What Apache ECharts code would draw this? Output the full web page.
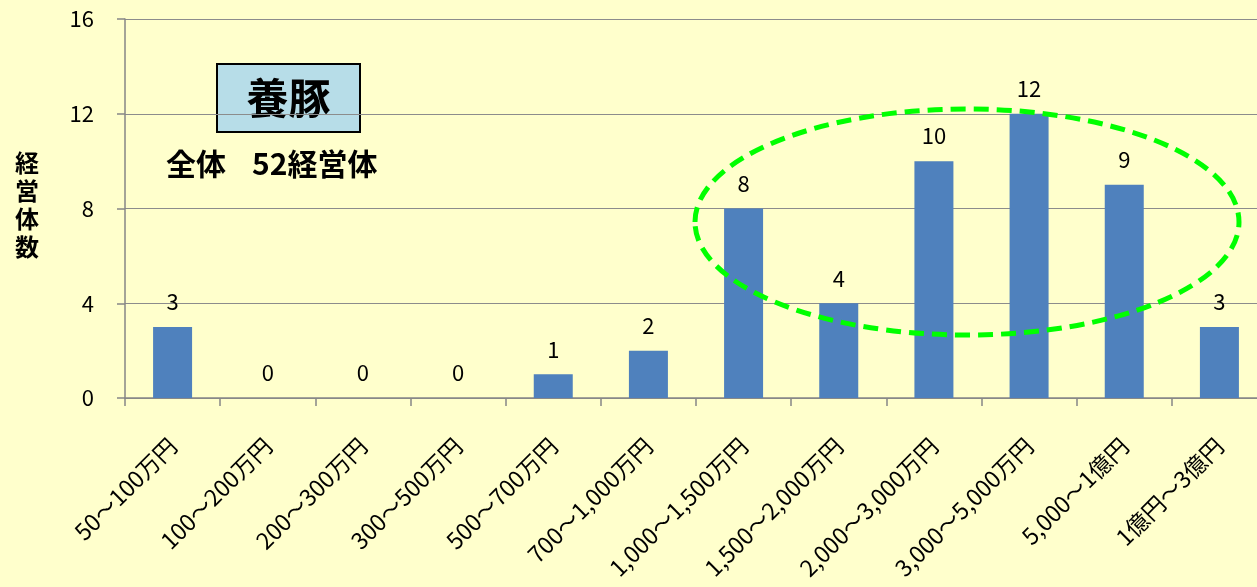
<!DOCTYPE html>
<html>
<head>
<meta charset="utf-8">
<script src="https://cdn.jsdelivr.net/npm/echarts@6/dist/echarts.min.js"></script>
<style>
  html, body { margin: 0; padding: 0; background: #FFFFCC; overflow: hidden; }
  /* the plot area runs slightly past the right edge of the window */
  #chart { width: 1280px; height: 587px; }
</style>
</head>
<body>
<div id="chart"></div>
<script>
// Income brackets (sales scale) for pig farming operations
const categories = [
  '50〜100万円', '100〜200万円', '200〜300万円', '300〜500万円',
  '500〜700万円', '700〜1,000万円', '1,000〜1,500万円', '1,500〜2,000万円',
  '2,000〜3,000万円', '3,000〜5,000万円', '5,000〜1億円', '1億円〜3億円'
];
// Number of operations per bracket
const counts = [3, 0, 0, 0, 1, 2, 8, 4, 10, 12, 9, 3];
// Y axis ticks
const yTicks = [0, 4, 8, 12, 16];

const FONT = '"Noto Sans CJK JP", "Noto Sans", sans-serif';

const chart = echarts.init(document.getElementById('chart'), null, { renderer: 'canvas' });

chart.setOption({
  backgroundColor: '#FFFFCC',
  animation: false,
  grid: { left: 125, top: 19, width: 1142, height: 379, containLabel: false },
  xAxis: {
    type: 'category',
    data: categories,
    axisLine: { lineStyle: { color: '#868686', width: 1.5 } },
    axisTick: { show: true, length: 8, lineStyle: { color: '#868686', width: 1.5 } },
    axisLabel: {
      rotate: 45,
      margin: 44,
      color: '#000',
      fontSize: 23,
      fontFamily: FONT,
      interval: 0
    }
  },
  yAxis: {
    type: 'value',
    min: yTicks[0],
    max: yTicks[yTicks.length - 1],
    interval: 4,
    axisLine: { show: true, lineStyle: { color: '#868686', width: 1.5 } },
    axisTick: { show: true, length: 8, lineStyle: { color: '#868686', width: 1.5 } },
    axisLabel: { margin: 31, color: '#000', fontSize: 22, fontFamily: FONT },
    splitLine: { lineStyle: { color: '#8C8C8C', width: 1.2 } }
  },
  series: [{
    type: 'bar',
    data: counts,
    barWidth: 39,
    itemStyle: { color: '#4F81BD' },
    label: {
      show: true,
      position: 'top',
      distance: 14,
      color: '#000',
      fontSize: 22,
      fontFamily: FONT
    }
  }],
  graphic: [
    {
      type: 'text',
      left: 15, top: 149,
      style: {
        text: '経\n営\n体\n数',
        fontSize: 24, fontWeight: 'bold', fontFamily: FONT,
        fill: '#000', lineHeight: 28
      }
    },
    {
      type: 'rect',
      shape: { x: 217, y: 64, width: 143, height: 68 },
      style: { fill: '#B7DDE8', stroke: '#000', lineWidth: 2 }
    },
    {
      type: 'text',
      x: 288.5, y: 98,
      style: {
        text: '養豚',
        fontSize: 42, fontWeight: 'bold', fontFamily: FONT,
        fill: '#000', align: 'center', verticalAlign: 'middle'
      }
    },
    {
      type: 'text',
      x: 166, y: 164,
      style: {
        text: '全体',
        fontSize: 30, fontWeight: 'bold', fontFamily: FONT,
        fill: '#000', align: 'left', verticalAlign: 'middle'
      }
    },
    {
      type: 'text',
      x: 252, y: 164,
      style: {
        text: '52経営体',
        fontSize: 30, fontWeight: 'bold', fontFamily: FONT,
        fill: '#000', align: 'left', verticalAlign: 'middle'
      }
    },
    {
      type: 'ellipse',
      shape: { cx: 967, cy: 222, rx: 272, ry: 113 },
      style: { fill: 'none', stroke: '#00FF00', lineWidth: 5, lineDash: [15, 8] },
      z: 10
    }
  ]
});
</script>
</body>
</html>
